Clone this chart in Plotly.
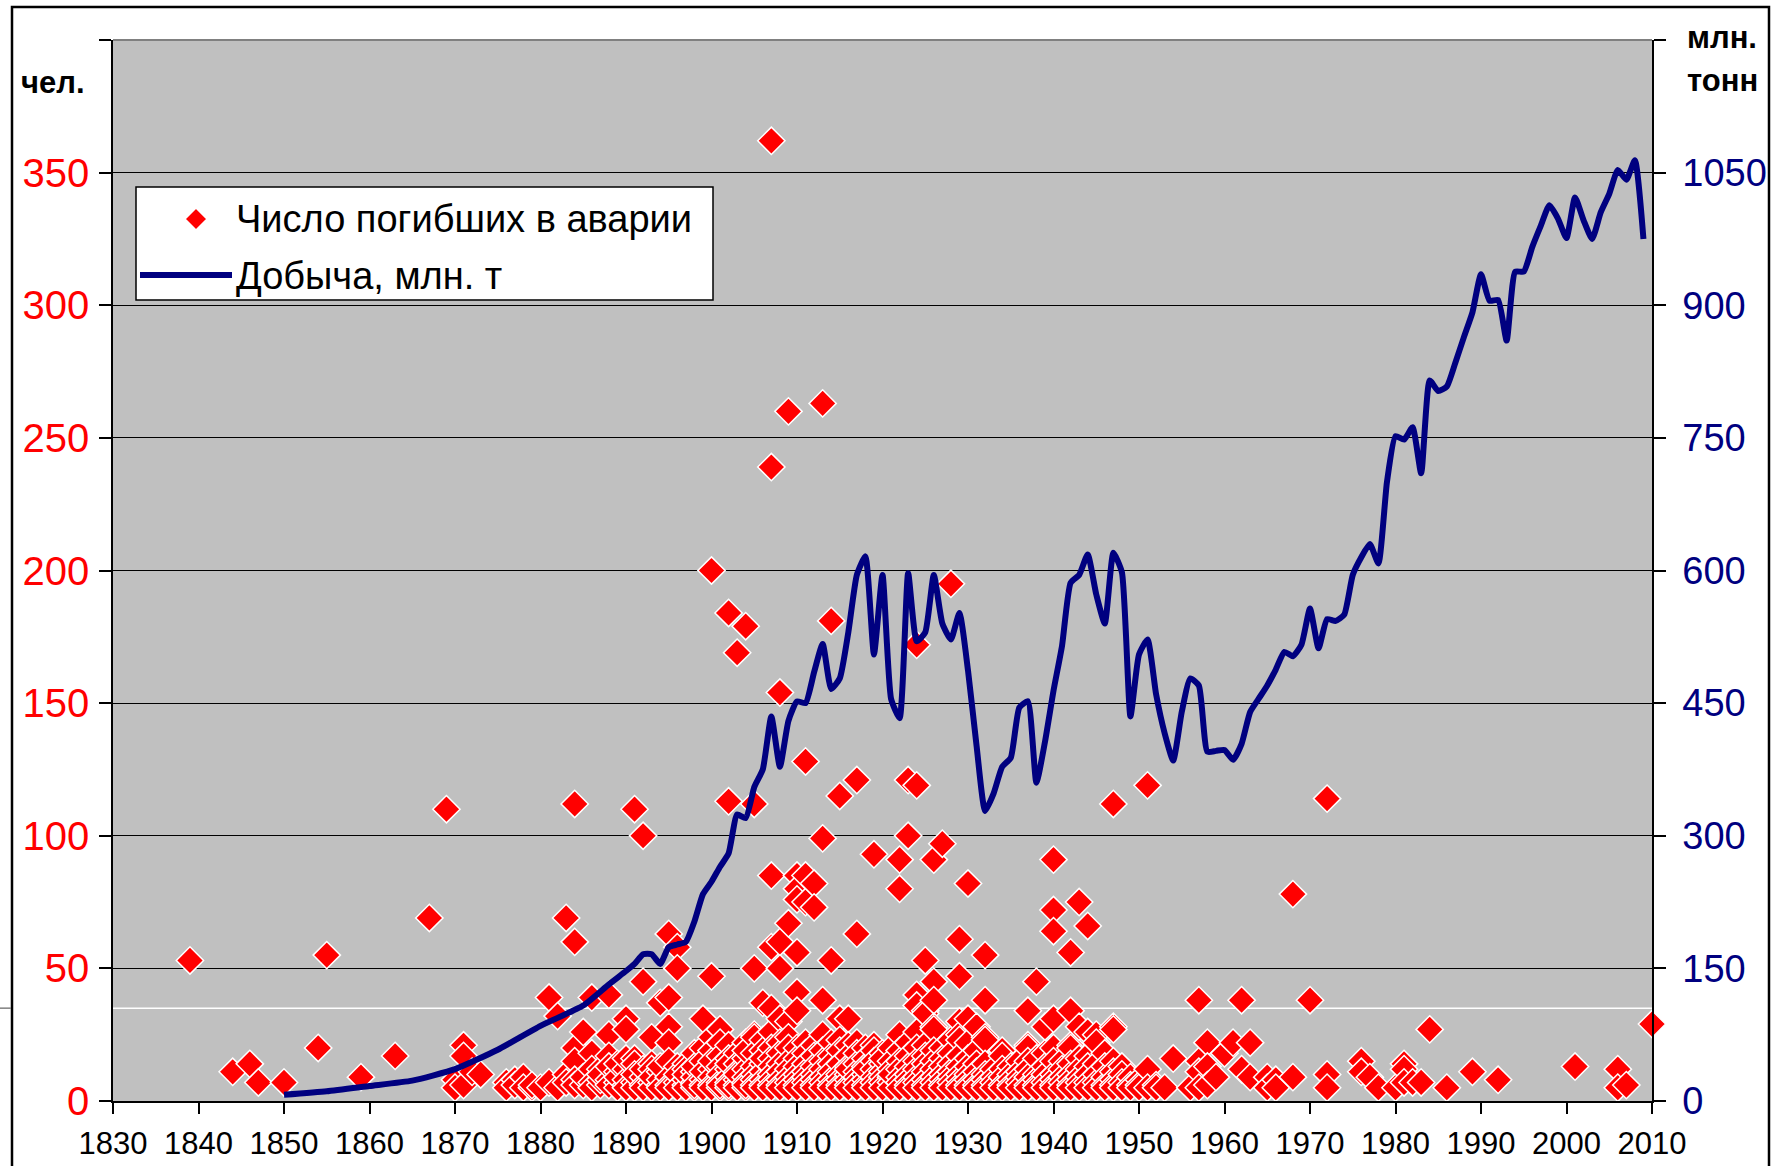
import plotly.graph_objects as go

# ---------------- data ----------------
prod_years = [1850, 1855, 1860, 1865, 1870, 1875, 1880, 1885, 1888,
              1890, 1891, 1892, 1893, 1894, 1895, 1896, 1897, 1898, 1899,
              1900, 1901, 1902, 1903, 1904, 1905, 1906, 1907, 1908, 1909,
              1910, 1911, 1912, 1913, 1914, 1915, 1916, 1917, 1918, 1919,
              1920, 1921, 1922, 1923, 1924, 1925, 1926, 1927, 1928, 1929,
              1930, 1931, 1932, 1933, 1934, 1935, 1936, 1937, 1938, 1939,
              1940, 1941, 1942, 1943, 1944, 1945, 1946, 1947, 1948, 1949,
              1950, 1951, 1952, 1953, 1954, 1955, 1956, 1957, 1958, 1959,
              1960, 1961, 1962, 1963, 1964, 1965, 1966, 1967, 1968, 1969,
              1970, 1971, 1972, 1973, 1974, 1975, 1976, 1977, 1978, 1979,
              1980, 1981, 1982, 1983, 1984, 1985, 1986, 1987, 1988, 1989,
              1990, 1991, 1992, 1993, 1994, 1995, 1996, 1997, 1998, 1999,
              2000, 2001, 2002, 2003, 2004, 2005, 2006, 2007, 2008, 2009]
prod_mt = [7, 11, 17, 23, 36, 58, 85, 108, 132,
           147, 155, 166, 166, 155, 174, 177, 180, 203, 234,
           248, 265, 280, 324, 320, 355, 375, 435, 378, 430,
           452, 450, 485, 517, 466, 478, 530, 595, 616, 505,
           595, 455, 433, 597, 520, 530, 595, 540, 522, 552,
           487, 402, 328, 348, 378, 388, 445, 452, 360, 406,
           464, 515, 586, 595, 618, 573, 540, 620, 598, 435,
           505, 522, 460, 416, 385, 440, 478, 470, 395, 396,
           397, 386, 404, 440, 455, 470, 488, 508, 503, 516,
           557, 512, 545, 543, 550, 595, 615, 630, 608, 700,
           752, 748, 762, 710, 815, 803, 808, 835, 864, 892,
           935, 905, 906, 860, 938, 938, 966, 990, 1013, 998,
           976, 1022, 996, 975, 1005, 1026, 1053, 1042, 1064, 975]

# deaths per accident, grouped by year
deaths_by_year = {
    1839: [53], 1844: [11], 1846: [14], 1847: [7], 1850: [7],
    1854: [20], 1855: [55], 1859: [9], 1863: [17], 1867: [69], 1869: [110],
    1870: [8, 5], 1871: [21, 17, 6], 1872: [11], 1873: [10],
    1876: [7, 5], 1877: [8, 6], 1878: [9, 5], 1879: [5, 6], 1880: [5],
    1881: [39, 7], 1882: [32, 5], 1883: [69, 10, 7],
    1884: [112, 60, 20, 15, 8, 6], 1885: [26, 6, 9],
    1886: [39, 18, 12, 7, 5], 1887: [12, 6, 8, 10],
    1888: [40, 25, 17, 8, 6, 13], 1889: [11, 7, 5, 9, 14],
    1890: [31, 27, 12, 6, 8, 5, 16], 1891: [110, 16, 14, 7, 5, 10],
    1892: [100, 45, 9, 6, 12, 5], 1893: [24, 14, 12, 7, 5, 9],
    1894: [37, 11, 6, 8, 5, 13], 1895: [63, 39, 28, 22, 15, 9, 6, 5],
    1896: [58, 50, 13, 7, 10, 5], 1897: [14, 12, 6, 8, 5, 10],
    1898: [18, 11, 7, 5, 9, 13, 6], 1899: [31, 20, 15, 8, 6, 5, 11],
    1900: [200, 47, 24, 19, 12, 9, 6, 5, 15],
    1901: [27, 22, 17, 13, 10, 7, 5, 6],
    1902: [184, 113, 21, 16, 12, 9, 7, 5, 6, 14],
    1903: [169, 18, 14, 11, 8, 6, 5, 10],
    1904: [179, 22, 16, 12, 9, 7, 5, 6, 19],
    1905: [112, 50, 25, 24, 18, 13, 10, 8, 6, 5],
    1906: [37, 23, 19, 14, 11, 8, 6, 5, 16],
    1907: [362, 239, 85, 58, 35, 26, 20, 16, 13, 10, 8, 6, 5],
    1908: [154, 60, 50, 31, 22, 18, 14, 11, 8, 6, 5],
    1909: [260, 67, 30, 24, 20, 15, 12, 9, 7, 5],
    1910: [85, 80, 76, 56, 41, 34, 20, 16, 13, 10, 8, 6, 5],
    1911: [128, 85, 75, 22, 18, 14, 11, 9, 7, 5],
    1912: [82, 73, 21, 17, 13, 10, 8, 6, 5],
    1913: [263, 99, 38, 25, 19, 15, 12, 9, 7, 5],
    1914: [181, 53, 22, 17, 14, 11, 8, 6, 5],
    1915: [115, 31, 23, 19, 14, 10, 8, 6, 5],
    1916: [31, 21, 17, 13, 10, 8, 6, 5, 12],
    1917: [121, 63, 22, 18, 14, 11, 9, 7, 5],
    1918: [20, 16, 13, 10, 8, 6, 5, 12],
    1919: [93, 21, 19, 15, 12, 9, 7, 5],
    1920: [18, 14, 11, 9, 7, 5, 16],
    1921: [20, 15, 12, 9, 7, 5, 10],
    1922: [91, 80, 25, 19, 15, 12, 9, 7, 5],
    1923: [121, 100, 22, 17, 13, 10, 8, 6, 5],
    1924: [172, 119, 40, 36, 26, 20, 15, 12, 9, 7, 5],
    1925: [53, 34, 33, 21, 17, 14, 11, 8, 6, 5],
    1926: [91, 45, 38, 28, 27, 19, 15, 12, 9, 7, 5],
    1927: [97, 20, 16, 13, 10, 8, 6, 5],
    1928: [195, 23, 18, 14, 11, 9, 7, 5],
    1929: [61, 47, 30, 25, 23, 17, 13, 10, 8, 6, 5],
    1930: [82, 31, 22, 16, 13, 10, 8, 6, 5],
    1931: [28, 19, 14, 11, 8, 6, 5],
    1932: [55, 38, 24, 23, 14, 10, 8, 6, 5],
    1933: [12, 9, 7, 5], 1934: [19, 17, 12, 9, 6, 5],
    1935: [13, 10, 8, 6, 5], 1936: [15, 11, 9, 7, 5],
    1937: [34, 21, 20, 15, 12, 9, 6, 5], 1938: [45, 16, 10, 8, 6, 5],
    1939: [28, 18, 13, 10, 7, 5],
    1940: [91, 72, 64, 31, 20, 15, 10, 8, 6, 5],
    1941: [15, 12, 9, 7, 5], 1942: [56, 34, 21, 20, 14, 10, 8, 6, 5],
    1943: [75, 28, 16, 12, 9, 7, 5], 1944: [66, 26, 17, 13, 10, 7, 5],
    1945: [25, 22, 14, 10, 7, 5], 1946: [18, 13, 9, 6, 5],
    1947: [112, 28, 27, 15, 11, 8, 6, 5], 1948: [13, 10, 7, 5],
    1949: [9, 6, 5], 1950: [8, 6, 5], 1951: [119, 12, 5], 1952: [6, 5],
    1953: [5], 1954: [16], 1956: [5], 1957: [38, 15, 11, 5],
    1958: [22, 13, 6], 1959: [9], 1960: [18], 1961: [22], 1962: [38, 12],
    1963: [22, 9], 1965: [9, 5], 1966: [8, 5], 1968: [78, 9], 1970: [38],
    1972: [114, 10, 5], 1976: [15, 11], 1977: [9], 1978: [5], 1980: [5],
    1981: [14, 12, 7], 1982: [7], 1983: [7], 1984: [27], 1986: [5],
    1989: [11], 1992: [8], 2001: [13], 2006: [12, 5], 2007: [6], 2010: [29],
}

x_ticks = list(range(1830, 2011, 10))
left_ticks = [0, 50, 100, 150, 200, 250, 300, 350, 400]
left_labels = ["0", "50", "100", "150", "200", "250", "300", "350", ""]
right_ticks = [0, 150, 300, 450, 600, 750, 900, 1050, 1200]
right_labels = ["0", "150", "300", "450", "600", "750", "900", "1050", ""]

legend_deaths = "Число погибших в аварии"
legend_prod = "Добыча, млн. т"
left_title = "чел."
right_title = ["млн.", "тонн"]

# ---------------- figure ----------------
acc_x, acc_y = [], []
for yr, vals in deaths_by_year.items():
    for v in vals:
        acc_x.append(yr)
        acc_y.append(v)

FW, FH = 1774, 1166
L, R, T, B = 113, 1652, 40, 1101


def px(x):
    return (x - L) / (R - L)


def py(y):
    return (B - y) / (B - T)


FONT = "Liberation Sans, Arial, sans-serif"

fig = go.Figure()
fig.add_trace(go.Scatter(
    x=acc_x, y=acc_y, mode="markers", name=legend_deaths,
    marker=dict(symbol="diamond", size=21, color="#FF0000",
                line=dict(color="white", width=1.5)),
    cliponaxis=False, showlegend=False))
fig.add_trace(go.Scatter(
    x=prod_years, y=prod_mt, yaxis="y2", mode="lines", name=legend_prod,
    line=dict(color="#000080", width=6, shape="spline", smoothing=0.5),
    showlegend=False))

shapes = [
    # outer chart border
    dict(type="rect", xref="paper", yref="paper", x0=px(12), x1=px(1769),
         y0=py(1400), y1=py(7), line=dict(color="black", width=2.5),
         fillcolor="rgba(0,0,0,0)", layer="above"),
    # top edge of plot area
    dict(type="line", xref="paper", yref="paper", x0=0, x1=1, y0=1, y1=1,
         line=dict(color="#808080", width=2), layer="above"),
    # white horizontal stroke across plot
    dict(type="line", xref="x", yref="y", x0=1830, x1=2010, y0=35, y1=35,
         line=dict(color="white", width=1.5), layer="between"),
    dict(type="line", xref="paper", yref="y", x0=px(0), x1=px(11), y0=35, y1=35,
         line=dict(color="#808080", width=1.5), layer="above"),
    # legend box
    dict(type="rect", xref="paper", yref="paper", x0=px(136), x1=px(713),
         y0=py(300), y1=py(187), fillcolor="white",
         line=dict(color="black", width=1.5), layer="above"),
    # legend line sample
    dict(type="line", xref="paper", yref="paper", x0=px(140), x1=px(232),
         y0=py(275), y1=py(275), line=dict(color="#000080", width=6),
         layer="above"),
]
# legend diamond sample
cx, cy, h = 196, 219, 11
path = "M {} {} L {} {} L {} {} L {} {} Z".format(
    px(cx), py(cy - h), px(cx + h), py(cy), px(cx), py(cy + h), px(cx - h), py(cy))
shapes.append(dict(type="path", xref="paper", yref="paper", path=path,
                   fillcolor="#FF0000", line=dict(color="white", width=1.5),
                   layer="above"))

annotations = [
    dict(text=legend_deaths, xref="paper", yref="paper", x=px(234), y=py(219),
         xanchor="left", yanchor="middle", showarrow=False,
         font=dict(family=FONT, size=38, color="black")),
    dict(text=legend_prod, xref="paper", yref="paper", x=px(234), y=py(276),
         xanchor="left", yanchor="middle", showarrow=False,
         font=dict(family=FONT, size=38, color="black")),
    dict(text="<b>" + left_title + "</b>", xref="paper", yref="paper",
         x=px(53), y=py(82), xanchor="center", yanchor="middle", showarrow=False,
         font=dict(family=FONT, size=31, color="black")),
    dict(text="<b>" + right_title[0] + "</b>", xref="paper", yref="paper",
         x=px(1722), y=py(38), xanchor="center", yanchor="middle", showarrow=False,
         font=dict(family=FONT, size=31, color="black")),
    dict(text="<b>" + right_title[1] + "</b>", xref="paper", yref="paper",
         x=px(1722), y=py(81), xanchor="center", yanchor="middle", showarrow=False,
         font=dict(family=FONT, size=31, color="black")),
]

fig.update_layout(
    width=FW, height=FH, autosize=False,
    margin=dict(l=L, r=FW - R, t=T, b=FH - B, pad=0, autoexpand=False),
    paper_bgcolor="white", plot_bgcolor="#C0C0C0",
    font=dict(family=FONT), showlegend=False,
    xaxis=dict(range=[1830, 2010], tickvals=x_ticks, ticks="outside",
               ticklen=11, tickwidth=1.5, tickcolor="black", showline=True,
               linecolor="black", linewidth=2, showgrid=False, zeroline=False,
               tickfont=dict(family=FONT, size=31, color="black"),
               ticklabelstandoff=3),
    yaxis=dict(range=[0, 400], tickvals=left_ticks, ticktext=left_labels,
               ticks="outside", ticklen=12, tickwidth=1.5, tickcolor="black",
               showline=True, linecolor="black", linewidth=1.5,
               showgrid=True, gridcolor="black", gridwidth=1, zeroline=False,
               tickfont=dict(family=FONT, size=40, color="#FF0000"),
               ticklabelstandoff=2),
    yaxis2=dict(range=[0, 1200], overlaying="y", side="right",
                tickvals=right_ticks, ticktext=right_labels, ticks="outside",
                ticklen=12, tickwidth=1.5, tickcolor="black", showline=True,
                linecolor="black", linewidth=1.5, showgrid=False,
                zeroline=False,
                tickfont=dict(family=FONT, size=38, color="#000080"),
                ticklabelstandoff=9),
    shapes=shapes, annotations=annotations,
)

fig.write_html(
    "out.html",
    config={"displayModeBar": False},
    post_script="document.body.style.margin='0';"
                "document.body.style.overflow='hidden';",
)
